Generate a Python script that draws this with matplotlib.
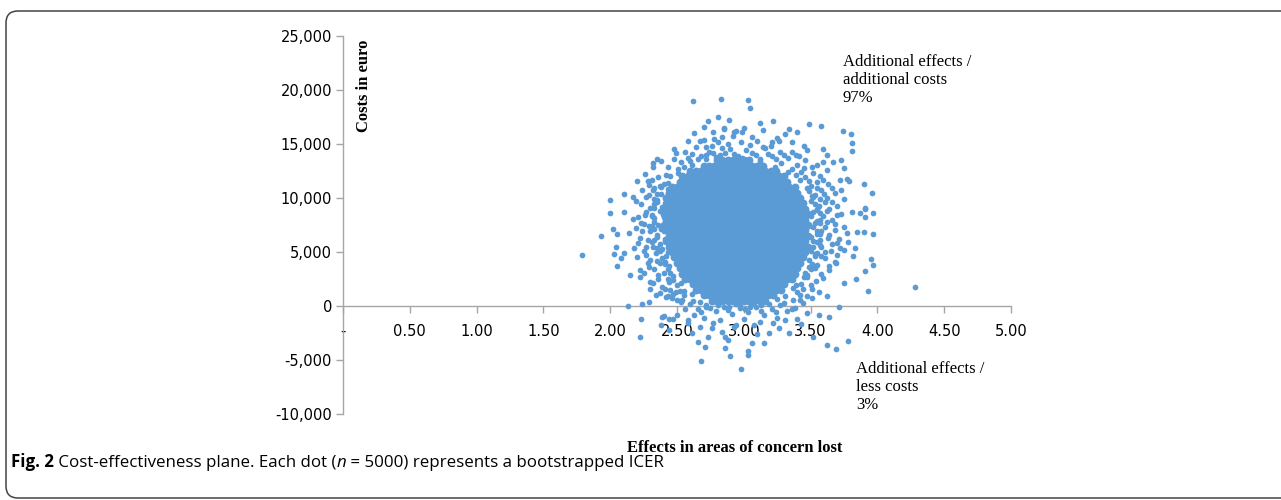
import matplotlib
matplotlib.use("Agg")
import matplotlib.pyplot as plt
from matplotlib.patches import FancyBboxPatch
from matplotlib.transforms import IdentityTransform
from matplotlib.ticker import FuncFormatter

# dense centre of the cloud, one row of dots per cost level
core_cost = [13500, 13000, 12500, 12000, 11500, 11000, 10500, 10000, 9500, 9000,
             8500, 8000, 7500, 7000, 6500, 6000, 5500, 5000, 4500, 4000,
             3500, 3000, 2500, 2000, 1500, 1000, 500]
core_eff = [
    [2.80, 2.84, 2.88, 2.92, 2.96, 3.00, 3.04],
    [2.70, 2.74, 2.78, 2.82, 2.86, 2.90, 2.94, 2.98, 3.02, 3.06, 3.10, 3.14],
    [2.60, 2.64, 2.68, 2.72, 2.76, 2.80, 2.84, 2.88, 2.92, 2.96, 3.00, 3.04, 3.08, 3.12, 3.16, 3.20, 3.24],
    [2.54, 2.58, 2.62, 2.66, 2.70, 2.74, 2.78, 2.82, 2.86, 2.90, 2.94, 2.98, 3.02, 3.06, 3.10, 3.14, 3.18, 3.22, 3.26, 3.30],
    [2.52, 2.56, 2.60, 2.64, 2.68, 2.72, 2.76, 2.80, 2.84, 2.88, 2.92, 2.96, 3.00, 3.04, 3.08, 3.12, 3.16, 3.20, 3.24, 3.28, 3.32],
    [2.46, 2.50, 2.54, 2.58, 2.62, 2.66, 2.70, 2.74, 2.78, 2.82, 2.86, 2.90, 2.94, 2.98, 3.02, 3.06, 3.10, 3.14, 3.18, 3.22, 3.26, 3.30, 3.34, 3.38],
    [2.44, 2.48, 2.52, 2.56, 2.60, 2.64, 2.68, 2.72, 2.76, 2.80, 2.84, 2.88, 2.92, 2.96, 3.00, 3.04, 3.08, 3.12, 3.16, 3.20, 3.24, 3.28, 3.32, 3.36, 3.40],
    [2.42, 2.46, 2.50, 2.54, 2.58, 2.62, 2.66, 2.70, 2.74, 2.78, 2.82, 2.86, 2.90, 2.94, 2.98, 3.02, 3.06, 3.10, 3.14, 3.18, 3.22, 3.26, 3.30, 3.34, 3.38, 3.42],
    [2.44, 2.48, 2.52, 2.56, 2.60, 2.64, 2.68, 2.72, 2.76, 2.80, 2.84, 2.88, 2.92, 2.96, 3.00, 3.04, 3.08, 3.12, 3.16, 3.20, 3.24, 3.28, 3.32, 3.36, 3.40, 3.44],
    [2.42, 2.46, 2.50, 2.54, 2.58, 2.62, 2.66, 2.70, 2.74, 2.78, 2.82, 2.86, 2.90, 2.94, 2.98, 3.02, 3.06, 3.10, 3.14, 3.18, 3.22, 3.26, 3.30, 3.34, 3.38, 3.42, 3.46],
    [2.40, 2.44, 2.48, 2.52, 2.56, 2.60, 2.64, 2.68, 2.72, 2.76, 2.80, 2.84, 2.88, 2.92, 2.96, 3.00, 3.04, 3.08, 3.12, 3.16, 3.20, 3.24, 3.28, 3.32, 3.36, 3.40, 3.44, 3.48],
    [2.42, 2.46, 2.50, 2.54, 2.58, 2.62, 2.66, 2.70, 2.74, 2.78, 2.82, 2.86, 2.90, 2.94, 2.98, 3.02, 3.06, 3.10, 3.14, 3.18, 3.22, 3.26, 3.30, 3.34, 3.38, 3.42, 3.46],
    [2.40, 2.44, 2.48, 2.52, 2.56, 2.60, 2.64, 2.68, 2.72, 2.76, 2.80, 2.84, 2.88, 2.92, 2.96, 3.00, 3.04, 3.08, 3.12, 3.16, 3.20, 3.24, 3.28, 3.32, 3.36, 3.40, 3.44, 3.48],
    [2.42, 2.46, 2.50, 2.54, 2.58, 2.62, 2.66, 2.70, 2.74, 2.78, 2.82, 2.86, 2.90, 2.94, 2.98, 3.02, 3.06, 3.10, 3.14, 3.18, 3.22, 3.26, 3.30, 3.34, 3.38, 3.42, 3.46],
    [2.44, 2.48, 2.52, 2.56, 2.60, 2.64, 2.68, 2.72, 2.76, 2.80, 2.84, 2.88, 2.92, 2.96, 3.00, 3.04, 3.08, 3.12, 3.16, 3.20, 3.24, 3.28, 3.32, 3.36, 3.40, 3.44, 3.48],
    [2.42, 2.46, 2.50, 2.54, 2.58, 2.62, 2.66, 2.70, 2.74, 2.78, 2.82, 2.86, 2.90, 2.94, 2.98, 3.02, 3.06, 3.10, 3.14, 3.18, 3.22, 3.26, 3.30, 3.34, 3.38, 3.42, 3.46],
    [2.44, 2.48, 2.52, 2.56, 2.60, 2.64, 2.68, 2.72, 2.76, 2.80, 2.84, 2.88, 2.92, 2.96, 3.00, 3.04, 3.08, 3.12, 3.16, 3.20, 3.24, 3.28, 3.32, 3.36, 3.40, 3.44, 3.48],
    [2.46, 2.50, 2.54, 2.58, 2.62, 2.66, 2.70, 2.74, 2.78, 2.82, 2.86, 2.90, 2.94, 2.98, 3.02, 3.06, 3.10, 3.14, 3.18, 3.22, 3.26, 3.30, 3.34, 3.38, 3.42, 3.46],
    [2.48, 2.52, 2.56, 2.60, 2.64, 2.68, 2.72, 2.76, 2.80, 2.84, 2.88, 2.92, 2.96, 3.00, 3.04, 3.08, 3.12, 3.16, 3.20, 3.24, 3.28, 3.32, 3.36, 3.40, 3.44],
    [2.50, 2.54, 2.58, 2.62, 2.66, 2.70, 2.74, 2.78, 2.82, 2.86, 2.90, 2.94, 2.98, 3.02, 3.06, 3.10, 3.14, 3.18, 3.22, 3.26, 3.30, 3.34, 3.38, 3.42],
    [2.52, 2.56, 2.60, 2.64, 2.68, 2.72, 2.76, 2.80, 2.84, 2.88, 2.92, 2.96, 3.00, 3.04, 3.08, 3.12, 3.16, 3.20, 3.24, 3.28, 3.32, 3.36, 3.40],
    [2.54, 2.58, 2.62, 2.66, 2.70, 2.74, 2.78, 2.82, 2.86, 2.90, 2.94, 2.98, 3.02, 3.06, 3.10, 3.14, 3.18, 3.22, 3.26, 3.30, 3.34, 3.38],
    [2.56, 2.60, 2.64, 2.68, 2.72, 2.76, 2.80, 2.84, 2.88, 2.92, 2.96, 3.00, 3.04, 3.08, 3.12, 3.16, 3.20, 3.24, 3.28, 3.32, 3.36],
    [2.62, 2.66, 2.70, 2.74, 2.78, 2.82, 2.86, 2.90, 2.94, 2.98, 3.02, 3.06, 3.10, 3.14, 3.18, 3.22, 3.26, 3.30],
    [2.64, 2.68, 2.72, 2.76, 2.80, 2.84, 2.88, 2.92, 2.96, 3.00, 3.04, 3.08, 3.12, 3.16, 3.20, 3.24, 3.28],
    [2.70, 2.74, 2.78, 2.82, 2.86, 2.90, 2.94, 2.98, 3.02, 3.06, 3.10, 3.14, 3.18, 3.22],
    [2.76, 2.80, 2.84, 2.88, 2.92, 2.96, 3.00, 3.04, 3.08, 3.12, 3.16],
]

# scattered dots around the centre, read one by one
halo_eff = [2.62, 2.83, 2.81, 2.89, 2.73, 2.70, 2.77, 2.85, 2.63, 2.93, 2.84, 2.58, 2.67, 2.81,
            2.72, 2.48, 2.49, 2.56, 2.61, 2.77, 2.35, 2.32, 2.38, 2.32, 2.48, 2.43, 2.20, 2.28,
            2.29, 2.00, 2.10, 2.17, 2.23, 2.32,
            3.03, 3.05, 3.12, 3.22, 3.14, 3.49, 3.58, 3.74, 3.80, 3.81, 3.81, 3.34, 3.31, 3.40,
            2.94, 2.99, 2.85, 3.06, 3.21, 3.26, 3.36, 3.36, 3.47, 3.59, 3.41, 3.62, 3.59, 3.67,
            3.73, 3.55, 3.62, 3.75, 3.59, 3.72, 3.77, 3.79, 3.90, 3.66, 3.73, 3.96, 3.75, 3.91,
            1.79, 1.93, 2.00, 2.10, 2.02, 2.05, 2.04, 2.03, 2.10, 2.08, 2.05, 2.15, 2.22, 2.13,
            2.24, 2.23, 2.17, 2.23, 2.14, 2.21, 2.18, 2.28, 2.22, 2.30, 2.34, 2.29, 2.30, 2.42,
            2.39, 2.44, 2.50,
            3.61, 3.70, 3.81, 3.87, 3.91, 3.97, 3.91, 3.90, 3.97, 3.85, 3.77, 3.78, 3.83, 3.75,
            3.82, 3.95, 3.97, 3.91, 3.93, 3.84, 3.75, 3.62, 3.71, 3.64, 3.69,
            2.22, 2.40, 2.38, 2.47, 2.44, 2.58, 2.61, 2.66, 2.71, 2.68, 2.73, 2.76, 2.84, 2.86,
            2.88, 2.90, 2.98, 3.03, 3.03, 3.06, 3.15, 2.94, 3.19, 3.26, 3.34, 3.47, 3.52, 3.56,
            3.64, 3.62, 3.69, 3.78, 4.28,
            2.36, 2.40, 2.33, 2.38, 2.27, 2.35, 2.41, 2.30, 2.37, 2.26, 2.40, 2.33, 2.29, 2.38,
            2.24, 2.35, 2.41, 2.31, 2.27, 2.39, 2.34, 2.42, 2.30, 2.37, 2.44, 2.33, 2.40, 2.47,
            2.36, 2.44, 2.50, 2.41, 2.49, 2.55, 2.46, 2.53,
            3.52, 3.46, 3.55, 3.50, 3.58, 3.53, 3.62, 3.50, 3.56, 3.64, 3.52, 3.59, 3.66, 3.53,
            3.61, 3.68, 3.55, 3.63, 3.52, 3.70, 3.58, 3.65, 3.53, 3.61, 3.68, 3.55, 3.50, 3.58,
            3.47, 3.54, 3.43, 3.51, 3.40, 3.47, 3.37, 3.44,
            2.68, 2.74, 2.82, 2.90, 2.96, 3.02, 3.09, 3.16, 3.21, 3.27, 3.33, 3.39, 2.60, 2.55,
            3.28, 3.36, 3.43, 2.51, 2.64, 2.88, 3.05, 3.20,
            2.60, 2.66, 2.72, 2.79, 2.85, 2.91, 2.97, 3.03, 3.09, 3.15, 3.21, 3.27, 3.32, 2.70,
            2.82, 3.00, 3.12, 3.25, 3.40, 2.63, 2.56, 3.38,
            2.26, 2.31, 2.42, 2.38, 2.24, 2.29, 2.43, 2.19, 2.33, 2.39, 2.27, 2.21, 2.31, 2.36,
            2.25, 2.19, 2.30, 2.40, 2.22, 2.28, 2.37, 2.25, 2.32, 2.43, 2.20, 2.27, 2.35, 2.41,
            2.29, 2.25, 2.36, 2.43, 2.32, 2.39, 2.45, 2.37, 2.43, 2.50, 2.47, 2.52,
            3.45, 3.51, 3.40, 3.57, 3.49, 3.63, 3.55, 3.68, 3.60, 3.52, 3.66, 3.57, 3.70, 3.62,
            3.55, 3.73, 3.50, 3.57, 3.68, 3.62, 3.52, 3.75, 3.58, 3.64, 3.50, 3.71, 3.57, 3.66,
            3.52, 3.72, 3.61, 3.50, 3.58, 3.70, 3.49, 3.64, 3.53, 3.59, 3.46, 3.50, 3.44, 3.56,
            3.42, 3.51,
            2.66, 2.72, 2.79, 2.86, 2.93, 2.99, 3.06, 3.12, 3.18, 3.24, 3.30, 2.76, 2.84, 2.98,
            3.10, 3.25, 2.70, 2.92, 3.14, 3.45, 2.58, 2.53, 3.46, 3.00, 2.78,
            2.62, 2.68, 2.75, 2.81, 2.88, 2.94, 3.01, 3.07, 3.13, 3.19, 3.24, 3.30, 3.36, 2.77,
            2.93, 3.08, 3.22, 3.31, 2.58, 2.67, 3.43, 3.10, 2.86, 2.54, 3.42,
            2.72, 3.12, 2.61, 3.23, 2.51, 3.33, 2.45, 3.39, 2.43, 3.42, 2.37, 3.47, 2.35, 3.49,
            2.33, 3.51, 2.35, 3.53, 2.33, 3.55, 2.31, 3.57, 2.33, 3.55, 2.31, 3.57, 2.33, 3.55,
            2.35, 3.57, 2.33, 3.55, 2.35, 3.57, 2.37, 3.55, 2.39, 3.53, 2.41, 3.51, 2.43, 3.49,
            2.45, 3.47, 2.47, 3.45, 2.53, 3.39, 2.55, 3.37, 2.61, 3.31, 2.67, 3.25, 2.72, 2.81,
            2.89, 2.97, 3.05, 3.13]
halo_cost = [19010, 19140, 17500, 17190, 17160, 16580, 16140, 16390, 16050, 16110, 15620, 15250, 15250, 15210,
             14690, 14510, 14200, 14260, 14080, 14200, 13580, 13270, 13400, 12840, 13640, 12840, 11600, 11600,
             11230, 9820, 10340, 10060, 9450, 10740,
             19080, 18360, 16910, 17130, 16300, 16820, 16700, 16200, 15900, 15060, 14350, 16390, 15930, 16140,
             16200, 16140, 16510, 15680, 15220, 15310, 15220, 14290, 14450, 14540, 13890, 13980, 13360, 13360,
             13520, 13060, 12590, 12750, 11670, 11670, 11730, 11600, 11300, 10900, 10740, 10430, 9880, 9050,
             4720, 6510, 8580, 8680, 7160, 6640, 5490, 4790, 4940, 4420, 3730, 2870, 2720, 0,
             185, -1200, 8030, 7710, 6790, 5860, 5340, 3950, 3330, 1550, 1020, 400, 2250, 860,
             -990, -1200, -830,
             9660, 8430, 8730, 8640, 8950, 8580, 8270, 6820, 6640, 6880, 6790, 5950, 5340, 5190,
             4630, 4320, 3800, 3240, 1420, 2500, 2100, 930, -60, 3330, 3950,
             -2900, -930, -1760, -1230, -2220, -1300, -2530, -3300, -3830, -5060, -2840, -2070, -2380, -3860,
             -3150, -4600, -5870, -4140, -4540, -3400, -3460, -1760, -2470, -2070, -2530, -680, -2840, -830,
             -990, -3610, -4010, -3210, 1790,
             11900, 11300, 10900, 10400, 10100, 9800, 9500, 9100, 8800, 8400, 8200, 7800, 7400, 7100,
             6900, 6600, 6200, 5900, 5500, 5300, 4900, 4600, 4300, 4000, 3700, 3400, 3100, 2800,
             2500, 2200, 1900, 1600, 1300, 1000, 700, 400,
             12300, 11900, 11500, 11100, 10700, 10300, 10000, 9700, 9300, 9000, 8700, 8300, 8000, 7700,
             7300, 7000, 6700, 6300, 6000, 5800, 5500, 5100, 4800, 4400, 4100, 3800, 3400, 3000,
             2700, 2300, 2000, 1600, 1300, 900, 600, 250,
             13900, 14300, 14000, 14500, 13900, 14400, 14000, 14600, 13900, 14300, 13700, 14000, 13400, 12900,
             13200, 12700, 12400, 12300, 14700, 15000, 14900, 14800,
             200, -300, 100, -500, -100, -700, -200, -600, -100, -800, -300, 100, -500, -1100,
             -1300, -1200, -1500, -1100, -1200, -800, -300, -200,
             12200, 11700, 12100, 11000, 10700, 10300, 10800, 9700, 9400, 9200, 8700, 8200, 8300, 7500,
             7600, 7200, 6900, 6900, 6300, 6100, 5700, 5100, 5500, 5000, 4500, 4700, 4200, 3900,
             3600, 3100, 2900, 2500, 2100, 1800, 1500, 1200, 900, 600, 1100, 1400,
             12800, 12900, 13100, 12000, 11600, 11300, 10900, 10500, 10400, 10100, 9600, 9900, 9300, 8800,
             9000, 8500, 8300, 8000, 7600, 7800, 7300, 7300, 6900, 6600, 6400, 6200, 6100, 5700,
             5500, 5400, 5000, 5100, 4600, 4700, 4300, 3700, 3500, 2600, 3100, 1900, 1600, 1300,
             1000, 700,
             13600, 14000, 13800, 14200, 14100, 13700, 14200, 13600, 14100, 13600, 14000, 14800, 14600, 15200,
             15300, 15600, 15400, 15700, 14700, 14800, 13700, 13300, 13500, 16500, 15500,
             500, -600, -200, 300, -400, 200, -300, 300, -500, 200, -600, 300, -300, -1600,
             -1900, -1800, -1600, -1300, -1600, -1900, -1700, -2600, -2900, 600, 600,
             13650, 13450, 13100, 12900, 12650, 12400, 12050, 12150, 11400, 11650, 11150, 10900, 10400, 10650,
             9900, 10150, 9650, 9400, 9100, 8900, 8400, 8650, 8150, 7900, 7400, 7650, 7100, 6900,
             6400, 6650, 6100, 5900, 5400, 5650, 5100, 4900, 4400, 4650, 4100, 3900, 3400, 3650,
             3100, 2900, 2400, 2650, 2100, 1900, 1400, 1650, 1100, 900, 400, 650, -50, 80,
             -120, 30, -60, 60]

x_ticks = [0, 0.5, 1.0, 1.5, 2.0, 2.5, 3.0, 3.5, 4.0, 4.5, 5.0]
y_ticks = [-10000, -5000, 0, 5000, 10000, 15000, 20000, 25000]

core_x = []
core_y = []
for c, row in zip(core_cost, core_eff):
    for e in row:
        core_x.append(e)
        core_y.append(c)

W, H = 1281, 500
fig = plt.figure(figsize=(W / 100, H / 100), dpi=100)
ax = fig.add_axes([343 / W, (H - 414) / H, 668 / W, 378 / H])

dot = "#5b9bd5"
# core dots overlap heavily in the original, so they are drawn a bit larger
ax.scatter(core_x, core_y, s=32, color=dot, linewidths=0, zorder=3)
ax.scatter(halo_eff, halo_cost, s=17, color=dot, linewidths=0, zorder=3)

ax.set_xlim(0, 5)
ax.set_ylim(-10000, 25000)
ax.set_xticks(x_ticks)
ax.set_yticks(y_ticks)
ax.xaxis.set_major_formatter(FuncFormatter(lambda v, p: "-" if abs(v) < 1e-9 else f"{v:.2f}"))
ax.yaxis.set_major_formatter(FuncFormatter(lambda v, p: f"{int(round(v)):,}"))

for s in ["top", "right"]:
    ax.spines[s].set_visible(False)
ax.spines["bottom"].set_position(("data", 0))
for s in ["left", "bottom"]:
    ax.spines[s].set_color("#a6a6a6")
    ax.spines[s].set_linewidth(1)
ax.tick_params(direction="out", length=5, width=1, color="#a6a6a6",
               labelsize=10.5, labelcolor="black")
ax.tick_params(axis="x", pad=8)
ax.tick_params(axis="y", pad=3)

serif = "Liberation Serif"
fig.text(364 / W, 1 - 40 / H, "Costs in euro", rotation=90, family=serif,
         weight="bold", fontsize=12, ha="center", va="top")
fig.text(842 / W, 1 - 452 / H, "Effects in areas of concern lost", family=serif,
         weight="bold", fontsize=12, ha="right", va="baseline")
fig.text(843 / W, 1 - 54 / H, "Additional effects /\nadditional costs\n97%",
         family=serif, fontsize=12, ha="left", va="top", linespacing=1.15)
fig.text(856 / W, 1 - 361 / H, "Additional effects /\nless costs\n3%",
         family=serif, fontsize=12, ha="left", va="top", linespacing=1.15)

# caption, pieces placed one after the other
renderer = fig.canvas.get_renderer()
pieces = [("Fig. 2", "bold", "normal"),
          (" Cost-effectiveness plane. Each dot (", "normal", "normal"),
          ("n", "normal", "italic"),
          (" = 5000) represents a bootstrapped ICER", "normal", "normal")]
x_px = 11
for txt, wt, st in pieces:
    t = fig.text(x_px / W, 1 - 467 / H, txt, family="Open Sans", weight=wt,
                 style=st, fontsize=12.2, ha="left", va="baseline")
    x_px = t.get_window_extent(renderer).x1

# rounded frame around the figure
frame = FancyBboxPatch((6, 2), 1320, 487, boxstyle="round,pad=0,rounding_size=12",
                       transform=IdentityTransform(), fill=False,
                       edgecolor="#444444", linewidth=1.1)
fig.patches.append(frame)

fig.savefig("out.png", dpi=100)
